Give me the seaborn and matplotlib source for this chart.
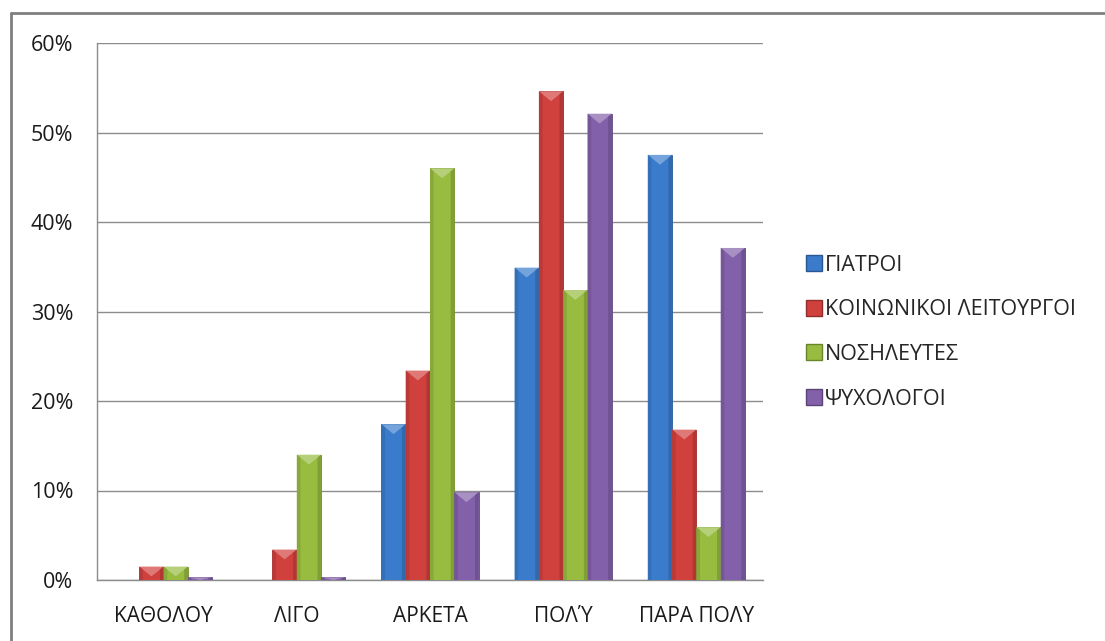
import numpy as np
import pandas as pd
import matplotlib
matplotlib.use("Agg")
import matplotlib.pyplot as plt
from matplotlib.patches import Polygon
from matplotlib.lines import Line2D
from matplotlib.colors import to_rgb
import seaborn as sns

# Response levels and the share of each professional group (%)
categories = ["ΚΑΘΟΛΟΥ", "ΛΙΓΟ", "ΑΡΚΕΤΑ", "ΠΟΛΎ", "ΠΑΡΑ ΠΟΛΥ"]
groups = ["ΓΙΑΤΡΟΙ", "ΚΟΙΝΩΝΙΚΟΙ ΛΕΙΤΟΥΡΓΟΙ", "ΝΟΣΗΛΕΥΤΕΣ", "ΨΥΧΟΛΟΓΟΙ"]
giatroi = [0.0, 0.0, 17.4, 34.9, 47.5]
koinonikoi = [1.5, 3.4, 23.4, 54.6, 16.8]
nosileutes = [1.5, 14.0, 46.0, 32.4, 5.9]
psychologoi = [0.3, 0.3, 9.8, 52.1, 37.1]
yticks = [0, 10, 20, 30, 40, 50, 60]
colors = ["#3A7CCB", "#D0403D", "#97BC3F", "#8360AA"]

df = pd.DataFrame({
    "category": np.repeat(categories, len(groups)),
    "group": groups * len(categories),
    "value": np.array([giatroi, koinonikoi, nosileutes, psychologoi]).T.ravel(),
})

sns.set_style("white")
plt.rcParams["font.family"] = ["Open Sans", "DejaVu Sans"]

fig = plt.figure(figsize=(11.05, 6.41), dpi=100)
ax = fig.add_axes([97 / 1105, 1 - 580 / 641, 666 / 1105, 537 / 641])

sns.barplot(data=df, x="category", y="value", hue="group", order=categories,
            hue_order=groups, palette=colors, width=0.73, saturation=1,
            ax=ax, legend=False, zorder=3)

def shade(c, f):
    r, g, b = to_rgb(c)
    if f >= 0:
        return (r + (1 - r) * f, g + (1 - g) * f, b + (1 - b) * f)
    return (r * (1 + f), g * (1 + f), b * (1 + f))

# Bevelled look: soft darker rim and a light triangular cap on every bar
for container, col in zip(ax.containers, colors):
    for bar in container:
        x0, y0 = bar.get_x(), bar.get_y()
        w, h = bar.get_width(), bar.get_height()
        bar.set_edgecolor(shade(col, -0.25))
        bar.set_linewidth(0.6)
        if h <= 0:
            bar.set_visible(False)
            continue
        cap = min(h, 1.1)
        ax.add_patch(Polygon([(x0, y0 + h), (x0 + w, y0 + h),
                              (x0 + w * 0.5, y0 + h - cap)],
                             closed=True, facecolor=shade(col, 0.3),
                             edgecolor="none", zorder=4))
        ax.add_patch(Polygon([(x0, y0), (x0 + w * 0.15, y0),
                              (x0 + w * 0.15, y0 + h - cap * 0.3), (x0, y0 + h)],
                             closed=True, facecolor=shade(col, -0.1),
                             edgecolor="none", zorder=4))
        ax.add_patch(Polygon([(x0 + w * 0.85, y0), (x0 + w, y0),
                              (x0 + w, y0 + h), (x0 + w * 0.85, y0 + h - cap * 0.3)],
                             closed=True, facecolor=shade(col, -0.15),
                             edgecolor="none", zorder=4))

ax.set_ylim(0, 60)
ax.set_xlim(-0.5, len(categories) - 0.5)
ax.set_yticks(yticks)
ax.set_yticklabels([f"{t}%" for t in yticks])
ax.set_xlabel("")
ax.set_ylabel("")

grid_col = "#8C8C8C"
ax.yaxis.grid(True, color=grid_col, linewidth=1, zorder=0)
ax.set_axisbelow(True)
for side in ["top", "right"]:
    ax.spines[side].set_visible(False)
for side in ["left", "bottom"]:
    ax.spines[side].set_color(grid_col)
    ax.spines[side].set_linewidth(1)

# Category ticks sit on the boundaries between groups
ax.set_xticks(np.arange(len(categories) + 1) - 0.5, minor=True)
ax.tick_params(axis="x", which="minor", length=7, color=grid_col, width=1)
ax.tick_params(axis="x", which="major", length=0, labelsize=15, pad=19,
               labelcolor="#1A1A1A")
ax.tick_params(axis="y", length=7, color=grid_col, width=1, labelsize=15.5,
               pad=10, labelcolor="#1A1A1A")

handles = [Line2D([0], [0], marker="s", linestyle="none", markersize=12,
                  markerfacecolor=c, markeredgecolor=shade(c, -0.3))
           for c in colors]
fig.legend(handles, groups, loc="upper left", bbox_to_anchor=(795 / 1105, 1 - 246 / 641),
           frameon=False, fontsize=15.5, handletextpad=0.0, labelspacing=1.1,
           borderaxespad=0, handlelength=1.0)

# Chart frame along the top and left edges
fig.add_artist(Line2D([11 / 1105, 11 / 1105], [0, 1 - 13 / 641],
                      transform=fig.transFigure, color="#7F7F7F", linewidth=2))
fig.add_artist(Line2D([11 / 1105, 1], [1 - 13 / 641, 1 - 13 / 641],
                      transform=fig.transFigure, color="#7F7F7F", linewidth=2))

fig.savefig("out.png", dpi=100)
